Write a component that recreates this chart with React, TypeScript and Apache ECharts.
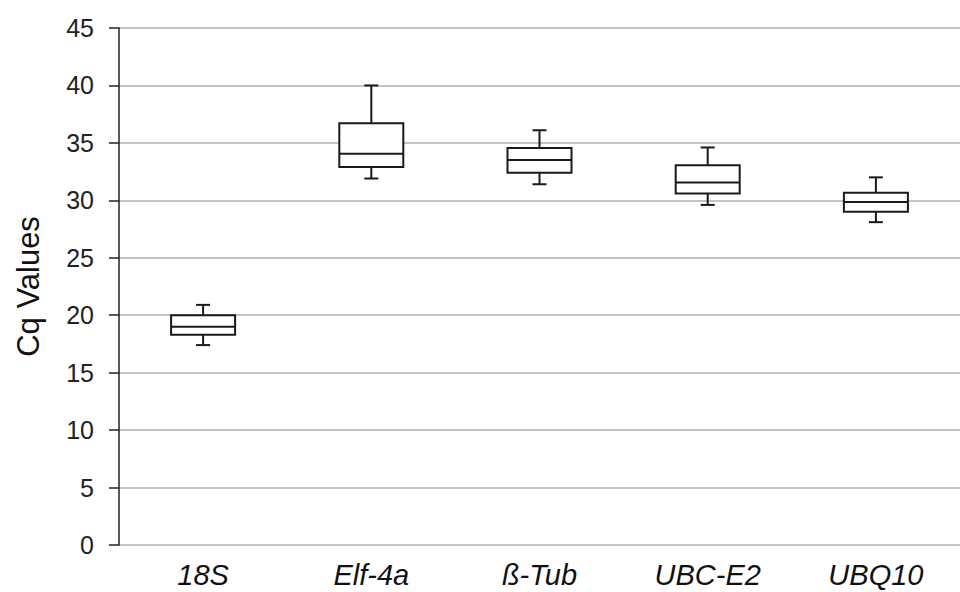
import React, { useEffect, useRef } from "react";
import * as echarts from "echarts";

const categories = ["18S", "Elf-4a", "ß-Tub", "UBC-E2", "UBQ10"];
// [low whisker, Q1, median, Q3, high whisker]
const lows = [17.4, 31.9, 31.4, 29.6, 28.1];
const q1s = [18.3, 32.9, 32.4, 30.6, 29.0];
const medians = [19.0, 34.05, 33.5, 31.55, 29.85];
const q3s = [20.0, 36.7, 34.55, 33.05, 30.65];
const highs = [20.9, 40.0, 36.1, 34.6, 32.0];
const yTicks = [0, 5, 10, 15, 20, 25, 30, 35, 40, 45];

export default function App() {
  const ref = useRef<HTMLDivElement>(null);
  useEffect(() => {
    if (!ref.current) return;
    const chart = echarts.init(ref.current, undefined, { renderer: "svg" });
    const data = categories.map((_, i) => [i, lows[i], q1s[i], medians[i], q3s[i], highs[i]]);
    const stroke = "#1a1a1a";
    chart.setOption({
      animation: false,
      backgroundColor: "#ffffff",
      grid: { left: 119, right: 0, top: 28, bottom: 47 },
      xAxis: {
        type: "category",
        data: categories,
        boundaryGap: true,
        axisLine: { show: false },
        axisTick: { show: false },
        axisLabel: {
          fontFamily: "Liberation Sans, Arial, sans-serif",
          fontSize: 29,
          lineHeight: 29,
          fontStyle: "italic",
          color: "#111111",
          margin: 15,
          interval: 0,
        },
        splitLine: { show: false },
      },
      yAxis: {
        type: "value",
        min: yTicks[0],
        max: yTicks[yTicks.length - 1],
        interval: 5,
        name: "Cq Values",
        nameLocation: "middle",
        nameGap: 75,
        nameTextStyle: {
          fontFamily: "Liberation Sans, Arial, sans-serif",
          fontSize: 31,
          color: "#111111",
        },
        axisLine: { show: true, lineStyle: { color: "#222222", width: 1.5 } },
        axisTick: { show: true, length: 10, lineStyle: { color: "#222222", width: 1.5 } },
        axisLabel: {
          fontFamily: "Liberation Sans, Arial, sans-serif",
          fontSize: 25,
          color: "#222222",
          margin: 25,
        },
        splitLine: { show: true, lineStyle: { color: "#b0b0b0", width: 1.5 } },
      },
      series: [
        {
          type: "custom",
          data,
          encode: { x: 0, y: [1, 2, 3, 4, 5] },
          renderItem: (params: any, api: any) => {
            const idx = api.value(0);
            const pLow = api.coord([idx, api.value(1)]);
            const pQ1 = api.coord([idx, api.value(2)]);
            const pMed = api.coord([idx, api.value(3)]);
            const pQ3 = api.coord([idx, api.value(4)]);
            const pHigh = api.coord([idx, api.value(5)]);
            const cx = pMed[0];
            const hw = 32;
            const cap = 7;
            const ls = { stroke, lineWidth: 2, fill: "none" };
            return {
              type: "group",
              children: [
                { type: "line", shape: { x1: cx, y1: pQ3[1], x2: cx, y2: pHigh[1] }, style: ls },
                { type: "line", shape: { x1: cx - cap, y1: pHigh[1], x2: cx + cap, y2: pHigh[1] }, style: ls },
                { type: "line", shape: { x1: cx, y1: pQ1[1], x2: cx, y2: pLow[1] }, style: ls },
                { type: "line", shape: { x1: cx - cap, y1: pLow[1], x2: cx + cap, y2: pLow[1] }, style: ls },
                {
                  type: "rect",
                  shape: { x: cx - hw, y: pQ3[1], width: hw * 2, height: pQ1[1] - pQ3[1] },
                  style: { stroke, lineWidth: 2, fill: "#ffffff" },
                },
                { type: "line", shape: { x1: cx - hw, y1: pMed[1], x2: cx + hw, y2: pMed[1] }, style: ls },
              ],
            };
          },
        },
      ],
    });
    return () => chart.dispose();
  }, []);
  return <div ref={ref} style={{ width: 960, height: 592, position: "absolute", left: 0, top: 0 }} />;
}
